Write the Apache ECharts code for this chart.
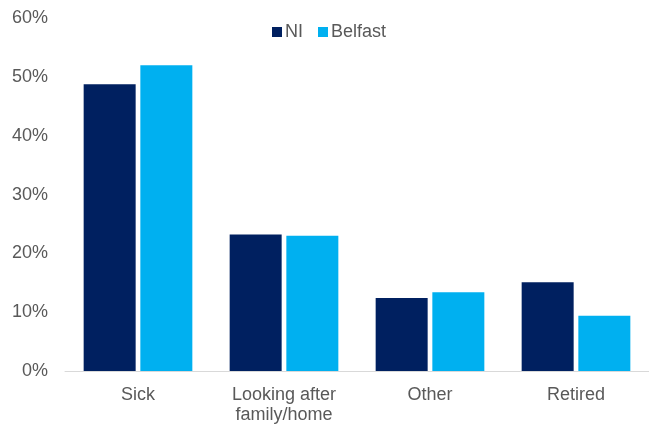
<!DOCTYPE html>
<html><head><meta charset="utf-8">
<script src="https://cdn.jsdelivr.net/npm/echarts@6/dist/echarts.min.js"></script>
<style>html,body{margin:0;padding:0;background:#fff}#c{width:649px;height:425px}</style>
</head><body><div id="c"></div>
<script>
var categories = ['Sick', 'Looking after\nfamily/home', 'Other', 'Retired'];
var seriesNames = ['NI', 'Belfast'];
var niValues = [48.8, 23.2, 12.4, 15.1];
var belfastValues = [52.0, 23.0, 13.4, 9.4];
var yTicks = [0, 10, 20, 30, 40, 50, 60];

var chart = echarts.init(document.getElementById('c'), null, {renderer: 'canvas'});
var font = 'Liberation Sans, Arial, sans-serif';
chart.setOption({
  animation: false,
  textStyle: {fontFamily: font},
  legend: {
    data: seriesNames, left: 267, top: 18, itemWidth: 10, itemHeight: 10, itemGap: 15,
    icon: 'rect',
    textStyle: {fontSize: 18, color: '#595959', fontFamily: font, padding: [0, 0, 0, -2]}
  },
  grid: {left: 65, top: 18.3, width: 588, height: 353.2, containLabel: false},
  xAxis: {
    type: 'category', data: categories,
    axisLine: {lineStyle: {color: '#d9d9d9', width: 1}},
    axisTick: {show: false},
    axisLabel: {fontSize: 18, color: '#595959', margin: 14, lineHeight: 20, fontFamily: font}
  },
  yAxis: {
    type: 'value', min: yTicks[0], max: yTicks[yTicks.length - 1], interval: 10,
    axisLine: {show: false}, axisTick: {show: false}, splitLine: {show: false},
    axisLabel: {fontSize: 18, color: '#595959', margin: 17, formatter: '{value}%', fontFamily: font}
  },
  series: [
    {name: seriesNames[0], type: 'bar', data: niValues, barWidth: 52, barGap: '9%', itemStyle: {color: '#002060'}},
    {name: seriesNames[1], type: 'bar', data: belfastValues, barWidth: 52, itemStyle: {color: '#00B0F0'}}
  ]
});
</script></body></html>
